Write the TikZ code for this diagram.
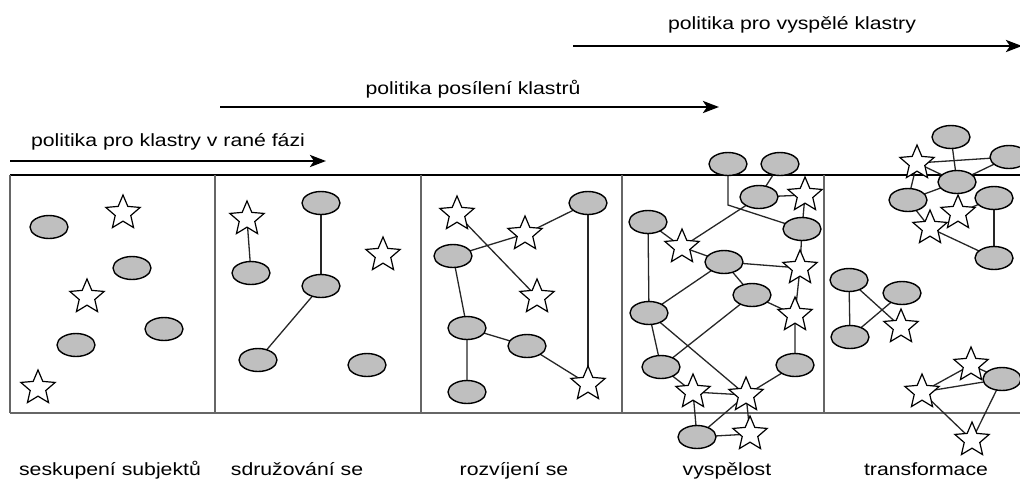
\documentclass[tikz,border=0pt]{standalone}
\usepackage{fontspec}
\setmainfont{Liberation Sans}
\newfontfamily\widesans{Liberation Sans}[FakeStretch=1.2]
\usetikzlibrary{shapes.geometric,arrows.meta,backgrounds}

\begin{document}
\begin{tikzpicture}[x=1pt,y=-1pt,
  firm/.style={ellipse,draw=black,line width=1.4pt,fill=black!25,
    minimum width=38pt,minimum height=23pt,inner sep=0pt},
  actor/.style={star,star points=5,star point ratio=2.2,draw=black,
    line width=1.2pt,fill=white,minimum size=36pt,inner sep=0pt},
  link/.style={line width=1.3pt,black!85},
  frameline/.style={line width=1.5pt,black!60},
  policy/.style={line width=2.8pt,-{Stealth[length=16pt,width=12pt,inset=4pt]}},
  policytext/.style={anchor=base,inner sep=0pt,font=\widesans\fontsize{17.7}{20}\selectfont},
  stagetext/.style={anchor=base,inner sep=0pt,font=\widesans\fontsize{17.7}{20}\selectfont}
]
\useasboundingbox (0,0) rectangle (1020,491);

% ---- policy arrows ----
\coordinate (a1s) at (10,161);  \coordinate (a1e) at (326,161);
\coordinate (a2s) at (220,107); \coordinate (a2e) at (719,107);
\coordinate (a3s) at (573,46);  \coordinate (a3e) at (1022,46);
\draw[policy] (a1s) -- (a1e);
\draw[policy] (a2s) -- (a2e);
\draw[policy] (a3s) -- (a3e);
\node[policytext] (l1) at (168,146) {politika pro klastry v rané fázi};
\node[policytext] (l2) at (473,94) {politika posílení klastrů};
\node[policytext] (l3) at (792,29) {politika pro vyspělé klastry};

% ---- panel 1: seskupení subjektů ----
\node[firm]  (p1a) at (49,227) {};
\node[actor] (p1b) at (123,213) {};
\node[firm]  (p1c) at (132,268) {};
\node[actor] (p1d) at (87,297) {};
\node[firm]  (p1e) at (164,329) {};
\node[firm]  (p1f) at (76,345) {};
\node[actor] (p1g) at (38,388) {};

% ---- panel 2: sdružování se ----
\node[actor] (p2a) at (247,219) {};
\node[firm]  (p2b) at (321,203) {};
\node[actor] (p2c) at (383,255) {};
\node[firm]  (p2d) at (251,273) {};
\node[firm]  (p2e) at (321,286) {};
\node[firm]  (p2f) at (258,360) {};
\node[firm]  (p2g) at (367,365) {};

% ---- panel 3: rozvíjení se ----
\node[actor] (p3s1) at (457,214) {};
\node[firm]  (p3e1) at (588,203) {};
\node[actor] (p3s2) at (525,234) {};
\node[firm]  (p3e2) at (453,256) {};
\node[actor] (p3s3) at (537,297) {};
\node[firm]  (p3e3) at (467,328) {};
\node[firm]  (p3e4) at (527,346) {};
\node[firm]  (p3e5) at (467,392) {};
\node[actor] (p3s4) at (588,384) {};

% ---- panel 4: vyspělost ----
\node[firm]  (t1) at (728,164) {};
\node[firm]  (t2) at (780,164) {};
\node[firm]  (m1) at (759,197) {};
\node[actor] (ms) at (805,195) {};
\node[firm]  (q1) at (648,222) {};
\node[firm]  (r1) at (802,229) {};
\node[actor] (st1) at (682,247) {};
\node[firm]  (c1) at (724,262) {};
\node[actor] (st2) at (800,268) {};
\node[firm]  (c2) at (752,295) {};
\node[actor] (st3) at (795,315) {};
\node[firm]  (q2) at (649,313) {};
\node[firm]  (q3) at (661,367) {};
\node[firm]  (r2) at (795,365) {};
\node[actor] (st4) at (693,392) {};
\node[actor] (st5) at (746,395) {};
\node[firm]  (b1) at (697,437) {};
\node[actor] (st6) at (750,434) {};
\coordinate (k1) at (728,205);

% ---- panel 5: transformace ----
\node[firm]  (u1) at (951,137) {};
\node[firm]  (u2) at (1009,157) {};
\node[actor] (v1) at (917,163) {};
\node[firm]  (u3) at (957,182) {};
\node[firm]  (u4) at (908,200) {};
\node[firm]  (u5) at (994,198) {};
\node[actor] (v2) at (958,213) {};
\node[actor] (v3) at (930,228) {};
\node[firm]  (u6) at (994,258) {};
\node[firm]  (w1) at (849,280) {};
\node[firm]  (w2) at (902,293) {};
\node[actor] (w3) at (901,327) {};
\node[firm]  (w4) at (850,337) {};
\node[actor] (x1) at (971,365) {};
\node[firm]  (x2) at (1002,379) {};
\node[actor] (x3) at (922,392) {};
\node[actor] (x4) at (972,440) {};

% ---- stage labels ----
\node[stagetext] (n1) at (110,475) {seskupení subjektů};
\node[stagetext] (n2) at (297,475) {sdružování se};
\node[stagetext] (n3) at (514,475) {rozvíjení se};
\node[stagetext] (n4) at (727,475) {vyspělost};
\node[stagetext] (n5) at (926,475) {transformace};

\begin{pgfonlayer}{background}
  % stage frame
  \draw[line width=1.3pt,black] (10,175) -- (1022,175);
  \draw[frameline] (10,413) -- (1022,413);
  \foreach \xx in {10,215,421,622,824}
    \draw[frameline] (\xx,175) -- (\xx,413);

  % links of panel 2
  \draw[link] (p2a.center) -- (p2d.center);
  \draw[link] (p2b.center) -- (p2e.center);
  \draw[link] (p2e.center) -- (p2f.center);

  % links of panel 3
  \draw[link] (p3s1.center) -- (p3s3.center);
  \draw[link] (p3e2.center) -- (p3s2.center) -- (p3e1.center);
  \draw[link] (p3e1.center) -- (p3s4.center);
  \draw[link] (p3e2.center) -- (p3e3.center) -- (p3e5.center);
  \draw[link] (p3e3.center) -- (p3e4.center) -- (p3s4.center);

  % links of panel 4
  \draw[link] (t1.center) -- (k1) -- (r1.center);
  \draw[link] (t2.center) -- (m1.center);
  \draw[link] (m1.center) -- (ms.center) -- (r1.center);
  \draw[link] (m1.center) -- (st1.center);
  \draw[link] (q1.center) -- (st1.center) -- (c1.center);
  \draw[link] (q1.center) -- (q2.center);
  \draw[link] (r1.center) -- (st2.center);
  \draw[link] (c1.center) -- (st2.center);
  \draw[link] (c1.center) -- (c2.center);
  \draw[link] (c1.center) -- (q2.center);
  \draw[link] (st2.center) -- (st3.center);
  \draw[link] (c2.center) -- (st3.center);
  \draw[link] (c2.center) -- (q3.center);
  \draw[link] (q2.center) -- (q3.center);
  \draw[link] (q2.center) -- (st5.center);
  \draw[link] (st3.center) -- (r2.center) -- (st5.center);
  \draw[link] (q3.center) -- (st4.center) -- (st5.center);
  \draw[link] (st4.center) -- (b1.center) -- (st5.center);
  \draw[link] (b1.center) -- (st6.center);
  \draw[link] (st5.center) -- (st6.center);

  % links of panel 5
  \draw[link] (u1.center) -- (u3.center);
  \draw[link] (v1.center) -- (u2.center);
  \draw[link] (v1.center) -- (u3.center);
  \draw[link] (u3.center) -- (u2.center);
  \draw[link] (v1.center) -- (u4.center);
  \draw[link] (u4.center) -- (u3.center);
  \draw[link] (u4.center) -- (v3.center) -- (u6.center);
  \draw[link] (v2.center) -- (u5.center);
  \draw[link] (u5.center) -- (u6.center);
  \draw[link] (w1.center) -- (w4.center) -- (w2.center);
  \draw[link] (w1.center) -- (w3.center);
  \draw[link] (x3.center) -- (x1.center) -- (x2.center);
  \draw[link] (x3.center) -- (x2.center) -- (x4.center) -- (x3.center);
\end{pgfonlayer}
\end{tikzpicture}
\end{document}
